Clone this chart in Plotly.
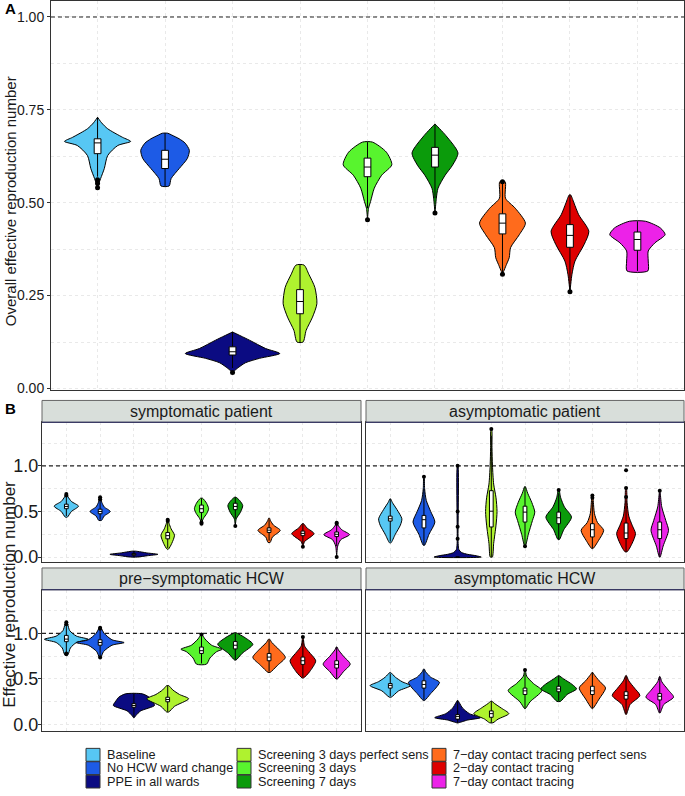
import plotly.graph_objects as go

# ---------------- categories / colours ----------------
categories = ["Baseline", "No HCW ward change", "PPE in all wards",
              "Screening 3 days perfect sens", "Screening 3 days", "Screening 7 days",
              "7\u2212day contact tracing perfect sens", "2\u2212day contact tracing",
              "7\u2212day contact tracing"]
colors = ["#57C7F4", "#1D5BE6", "#0B0B82", "#AFF22F", "#58F42E", "#0B9B0B",
          "#FF6B1C", "#DE0000", "#EC22E8"]
facet_titles = ["symptomatic patient", "asymptomatic patient",
                "pre\u2212symptomatic HCW", "asymptomatic HCW"]
reference_value = 1.0

# ---------------- Panel A: violin profiles (value, half-width in category units) -------------
A_profiles = [
    [(0.539, 0.0), (0.552, 0.02), (0.565, 0.045), (0.592, 0.10), (0.627, 0.15), (0.654, 0.30),
     (0.665, 0.49), (0.676, 0.37), (0.699, 0.15), (0.715, 0.06), (0.730, 0.0)],
    [(0.545, 0.06), (0.565, 0.09), (0.592, 0.21), (0.619, 0.33), (0.641, 0.36), (0.660, 0.30),
     (0.672, 0.21), (0.682, 0.10), (0.687, 0.04)],
    [(0.043, 0.0), (0.054, 0.07), (0.069, 0.19), (0.081, 0.40), (0.094, 0.70), (0.1075, 0.49),
     (0.130, 0.25), (0.152, 0.0)],
    [(0.125, 0.045), (0.156, 0.09), (0.192, 0.185), (0.228, 0.25), (0.272, 0.22), (0.3075, 0.13),
     (0.332, 0.06)],
    [(0.454, 0.0), (0.485, 0.015), (0.503, 0.045), (0.539, 0.10), (0.574, 0.21), (0.602, 0.36),
     (0.636, 0.28), (0.663, 0.075)],
    [(0.472, 0.0), (0.512, 0.02), (0.539, 0.045), (0.574, 0.15), (0.601, 0.26), (0.634, 0.34),
     (0.681, 0.16), (0.712, 0.0)],
    [(0.3075, 0.0), (0.334, 0.06), (0.352, 0.10), (0.379, 0.12), (0.414, 0.25), (0.445, 0.34),
     (0.485, 0.19), (0.512, 0.045), (0.5565, 0.04)],
    [(0.2604, 0.0), (0.3075, 0.03), (0.343, 0.075), (0.3875, 0.21), (0.423, 0.28), (0.4675, 0.13),
     (0.499, 0.06), (0.521, 0.01)],
    [(0.3164, 0.155), (0.343, 0.16), (0.37, 0.16), (0.392, 0.26), (0.414, 0.41), (0.432, 0.34),
     (0.45, 0.12)],
]
A_q1 = [0.632, 0.592, 0.090, 0.201, 0.570, 0.596, 0.416, 0.380, 0.372]
A_med = [0.661, 0.617, 0.0987, 0.234, 0.596, 0.628, 0.445, 0.412, 0.401]
A_q3 = [0.672, 0.641, 0.112, 0.266, 0.620, 0.649, 0.470, 0.441, 0.421]
A_lo = [0.570, 0.545, 0.055, 0.125, 0.485, 0.512, 0.3075, 0.2604, 0.3164]
A_hi = [0.730, 0.687, 0.152, 0.332, 0.663, 0.712, 0.5565, 0.521, 0.45]
A_out = [[0.562, 0.552, 0.540], [], [0.043], [], [0.454], [0.472], [0.3075, 0.5565], [0.2604], []]

# ---------------- Panel B: symptomatic patient ----------------
SP_profiles = [
    [(0.438, 0.03), (0.50, 0.15), (0.558, 0.36), (0.61, 0.15), (0.66, 0.05), (0.692, 0.01)],
    [(0.402, 0.04), (0.45, 0.12), (0.50, 0.30), (0.55, 0.12), (0.60, 0.05), (0.656, 0.01)],
    [(0.0, 0.10), (0.015, 0.40), (0.03, 0.71), (0.045, 0.40), (0.065, 0.05)],
    [(0.087, 0.02), (0.15, 0.12), (0.24, 0.20), (0.31, 0.10), (0.37, 0.04), (0.41, 0.01)],
    [(0.366, 0.0), (0.42, 0.05), (0.48, 0.16), (0.53, 0.21), (0.59, 0.15), (0.645, 0.03)],
    [(0.34, 0.0), (0.42, 0.03), (0.49, 0.15), (0.565, 0.22), (0.62, 0.13), (0.656, 0.02)],
    [(0.16, 0.03), (0.22, 0.10), (0.293, 0.33), (0.35, 0.13), (0.40, 0.04), (0.428, 0.01)],
    [(0.112, 0.0), (0.17, 0.05), (0.257, 0.33), (0.32, 0.12), (0.366, 0.02)],
    [(0.0, 0.0), (0.12, 0.03), (0.19, 0.12), (0.246, 0.38), (0.30, 0.15), (0.35, 0.04), (0.377, 0.01)],
]
SP_q1 = [0.53, 0.475, 0.02, 0.20, 0.49, 0.52, 0.27, 0.235, 0.225]
SP_med = [0.555, 0.50, 0.03, 0.235, 0.53, 0.555, 0.295, 0.26, 0.25]
SP_q3 = [0.58, 0.525, 0.04, 0.27, 0.57, 0.59, 0.32, 0.285, 0.275]
SP_lo = [0.45, 0.41, 0.0, 0.10, 0.40, 0.42, 0.18, 0.14, 0.12]
SP_hi = [0.66, 0.62, 0.065, 0.38, 0.645, 0.656, 0.41, 0.366, 0.36]
SP_out = [[0.675, 0.692], [0.635, 0.656], [], [0.395, 0.41], [0.366, 0.38], [0.34], [], [0.112],
          [0.0, 0.365, 0.377]]

# ---------------- Panel B: asymptomatic patient ----------------
AP_profiles = [
    [(0.156, 0.02), (0.25, 0.15), (0.35, 0.30), (0.42, 0.345), (0.52, 0.20), (0.60, 0.06), (0.638, 0.01)],
    [(0.13, 0.02), (0.25, 0.15), (0.384, 0.325), (0.50, 0.20), (0.62, 0.07), (0.75, 0.02), (0.88, 0.005)],
    [(0.0, 0.70), (0.015, 0.55), (0.03, 0.30), (0.05, 0.12), (0.08, 0.04), (0.15, 0.015), (1.0, 0.008)],
    [(0.0, 0.03), (0.15, 0.07), (0.35, 0.14), (0.50, 0.17), (0.65, 0.14), (0.80, 0.07), (1.0, 0.035),
     (1.2, 0.02), (1.405, 0.01)],
    [(0.12, 0.01), (0.25, 0.10), (0.40, 0.22), (0.493, 0.29), (0.60, 0.20), (0.70, 0.08), (0.772, 0.01)],
    [(0.192, 0.02), (0.30, 0.15), (0.438, 0.38), (0.55, 0.17), (0.65, 0.06), (0.736, 0.01)],
    [(0.094, 0.02), (0.18, 0.18), (0.293, 0.335), (0.38, 0.15), (0.48, 0.06), (0.60, 0.03), (0.674, 0.01)],
    [(0.058, 0.03), (0.15, 0.18), (0.257, 0.28), (0.35, 0.18), (0.45, 0.08), (0.60, 0.03), (0.75, 0.01)],
    [(0.0, 0.01), (0.12, 0.10), (0.293, 0.26), (0.40, 0.18), (0.55, 0.06), (0.70, 0.015), (0.728, 0.005)],
]
AP_q1 = [0.395, 0.32, 0.0, 0.33, 0.384, 0.366, 0.221, 0.203, 0.203]
AP_med = [0.42, 0.41, 0.0, 0.503, 0.493, 0.431, 0.30, 0.264, 0.30]
AP_q3 = [0.449, 0.457, 0.0, 0.728, 0.558, 0.493, 0.366, 0.373, 0.384]
AP_lo = [0.17, 0.13, 0.0, 0.0, 0.13, 0.192, 0.094, 0.058, 0.0]
AP_hi = [0.638, 0.75, 0.0, 1.33, 0.772, 0.70, 0.62, 0.62, 0.70]
AP_out = [[], [0.88], [0.2, 0.333, 0.5, 1.0], [1.405], [0.12], [0.736], [0.65, 0.674],
          [0.659, 0.757, 0.953], [0.728]]

# ---------------- Panel B: pre-symptomatic HCW ----------------
PH_profiles = [
    [(0.77, 0.05), (0.84, 0.12), (0.90, 0.30), (0.935, 0.65), (0.97, 0.30), (1.03, 0.10), (1.10, 0.04),
     (1.123, 0.01)],
    [(0.736, 0.02), (0.80, 0.10), (0.87, 0.35), (0.899, 0.71), (0.93, 0.35), (1.00, 0.12), (1.062, 0.02)],
    [(0.076, 0.01), (0.10, 0.06), (0.15, 0.20), (0.21, 0.61), (0.25, 0.55), (0.30, 0.45), (0.337, 0.25)],
    [(0.138, 0.03), (0.20, 0.20), (0.283, 0.62), (0.33, 0.35), (0.38, 0.15), (0.427, 0.03)],
    [(0.663, 0.15), (0.73, 0.25), (0.80, 0.45), (0.826, 0.61), (0.87, 0.30), (0.94, 0.10), (0.989, 0.01)],
    [(0.707, 0.02), (0.78, 0.20), (0.88, 0.52), (0.95, 0.30), (1.007, 0.02)],
    [(0.572, 0.03), (0.65, 0.25), (0.736, 0.48), (0.82, 0.30), (0.90, 0.08), (0.935, 0.02)],
    [(0.511, 0.02), (0.58, 0.20), (0.699, 0.38), (0.78, 0.22), (0.86, 0.05), (0.96, 0.005)],
    [(0.50, 0.02), (0.58, 0.20), (0.663, 0.40), (0.75, 0.20), (0.82, 0.05), (0.851, 0.01)],
]
PH_q1 = [0.909, 0.87, 0.19, 0.25, 0.78, 0.83, 0.70, 0.66, 0.62]
PH_med = [0.937, 0.90, 0.21, 0.275, 0.81, 0.87, 0.74, 0.70, 0.66]
PH_q3 = [0.978, 0.93, 0.23, 0.30, 0.85, 0.91, 0.78, 0.74, 0.70]
PH_lo = [0.79, 0.75, 0.08, 0.14, 0.67, 0.71, 0.58, 0.52, 0.50]
PH_hi = [1.08, 1.04, 0.337, 0.427, 0.97, 1.0, 0.93, 0.93, 0.851]
PH_out = [[0.77, 0.78, 1.10, 1.123], [0.736, 1.05, 1.062], [], [], [0.989], [], [], [0.96], []]

# ---------------- Panel B: asymptomatic HCW ----------------
AH_profiles = [
    [(0.301, 0.03), (0.37, 0.25), (0.427, 0.60), (0.47, 0.35), (0.52, 0.15), (0.572, 0.01)],
    [(0.264, 0.02), (0.34, 0.20), (0.40, 0.35), (0.464, 0.46), (0.52, 0.20), (0.58, 0.05), (0.609, 0.01)],
    [(0.018, 0.01), (0.05, 0.30), (0.076, 0.68), (0.12, 0.35), (0.18, 0.15), (0.24, 0.05), (0.264, 0.01)],
    [(0.02, 0.05), (0.06, 0.20), (0.12, 0.52), (0.18, 0.30), (0.23, 0.10), (0.257, 0.01)],
    [(0.174, 0.01), (0.25, 0.15), (0.373, 0.50), (0.45, 0.25), (0.53, 0.05), (0.598, 0.005)],
    [(0.254, 0.05), (0.33, 0.25), (0.391, 0.53), (0.44, 0.40), (0.50, 0.15), (0.536, 0.01)],
    [(0.174, 0.01), (0.28, 0.20), (0.402, 0.39), (0.48, 0.20), (0.55, 0.05), (0.572, 0.01)],
    [(0.112, 0.01), (0.22, 0.12), (0.319, 0.41), (0.40, 0.25), (0.48, 0.08), (0.536, 0.01)],
    [(0.127, 0.01), (0.22, 0.12), (0.301, 0.41), (0.38, 0.25), (0.47, 0.06), (0.525, 0.01)],
]
AH_q1 = [0.40, 0.40, 0.06, 0.08, 0.33, 0.36, 0.33, 0.28, 0.27]
AH_med = [0.43, 0.44, 0.09, 0.12, 0.37, 0.39, 0.37, 0.32, 0.31]
AH_q3 = [0.45, 0.48, 0.11, 0.15, 0.40, 0.42, 0.42, 0.36, 0.34]
AH_lo = [0.31, 0.27, 0.02, 0.02, 0.18, 0.26, 0.18, 0.12, 0.13]
AH_hi = [0.56, 0.60, 0.26, 0.257, 0.56, 0.536, 0.572, 0.536, 0.525]
AH_out = [[], [], [], [], [0.598], [], [], [], []]

# ---------------- layout geometry (pixels of the 685x796 page) ----------------
W, H = 685, 796
FONT = "Liberation Sans, Arial, Helvetica, sans-serif"


def px(x):
    return x / W


def py(y):
    return 1 - y / H


panels = [
    dict(ax="", prof=A_profiles, q1=A_q1, med=A_med, q3=A_q3, lo=A_lo, hi=A_hi, out=A_out,
         xd=(51, 684), yd=(1, 393), yr=(-0.003, 1.043), xr=(-0.69, 8.69),
         ticks=[0, 0.25, 0.5, 0.75, 1.0], ticktext=["0.00", "0.25", "0.50", "0.75", "1.00"],
         minor=[0.125, 0.375, 0.625, 0.875], labels=True, tfs=14, msize=5, bw=0.1, so=0),
    dict(ax="2", prof=SP_profiles, q1=SP_q1, med=SP_med, q3=SP_q3, lo=SP_lo, hi=SP_hi, out=SP_out,
         xd=(42, 361), yd=(426, 567), yr=(-0.054, 1.478), xr=(-0.72, 8.72),
         ticks=[0, 0.5, 1.0], ticktext=["0.0", "0.5", "1.0"], minor=[0.25, 0.75, 1.25],
         labels=True, tfs=18, msize=4, bw=0.11, so=-4),
    dict(ax="3", prof=AP_profiles, q1=AP_q1, med=AP_med, q3=AP_q3, lo=AP_lo, hi=AP_hi, out=AP_out,
         xd=(366, 684), yd=(426, 567), yr=(-0.054, 1.478), xr=(-0.72, 8.72),
         ticks=[0, 0.5, 1.0], ticktext=["0.0", "0.5", "1.0"], minor=[0.25, 0.75, 1.25],
         labels=False, tfs=18, msize=4, bw=0.11, so=0),
    dict(ax="4", prof=PH_profiles, q1=PH_q1, med=PH_med, q3=PH_q3, lo=PH_lo, hi=PH_hi, out=PH_out,
         xd=(42, 361), yd=(595, 737), yr=(-0.065, 1.478), xr=(-0.72, 8.72),
         ticks=[0, 0.5, 1.0], ticktext=["0.0", "0.5", "1.0"], minor=[0.25, 0.75, 1.25],
         labels=True, tfs=18, msize=4, bw=0.11, so=-4),
    dict(ax="5", prof=AH_profiles, q1=AH_q1, med=AH_med, q3=AH_q3, lo=AH_lo, hi=AH_hi, out=AH_out,
         xd=(366, 684), yd=(595, 737), yr=(-0.065, 1.478), xr=(-0.72, 8.72),
         ticks=[0, 0.5, 1.0], ticktext=["0.0", "0.5", "1.0"], minor=[0.25, 0.75, 1.25],
         labels=False, tfs=18, msize=4, bw=0.11, so=0),
]

fig = go.Figure()
GRID = "#E9E9E9"
LINE = "#333333"
shapes = []
annotations = []

for p in panels:
    xa, ya = "x" + p["ax"], "y" + p["ax"]
    common = dict(xaxis=xa, yaxis=ya, showlegend=False, hoverinfo="skip")
    # dashed reference line at R = 1 (under the violins, above the grid)
    fig.add_trace(go.Scatter(x=list(p["xr"]), y=[reference_value, reference_value], mode="lines",
                             line=dict(color="#222222", width=1.1, dash="4px,3px"), **common))
    # violins
    for i, prof in enumerate(p["prof"]):
        ys = [v for v, w in prof]
        ws = [w for v, w in prof]
        xs = [i + w for w in ws] + [i - w for w in ws[::-1]] + [i + ws[0]]
        yy = ys + ys[::-1] + [ys[0]]
        fig.add_trace(go.Scatter(x=xs, y=yy, mode="lines", fill="toself", fillcolor=colors[i],
                                 line=dict(color="black", width=1, shape="spline", smoothing=0.7),
                                 **common))
    # boxplot summaries: whiskers, boxes, medians (built from the summary statistics)
    hw = p["bw"] / 2
    wx, wy, bx, by, mx, my = [], [], [], [], [], []
    for i in range(9):
        wx += [i, i, None]
        wy += [p["lo"][i], p["hi"][i], None]
        bx += [i - hw, i + hw, i + hw, i - hw, i - hw, None]
        by += [p["q1"][i], p["q1"][i], p["q3"][i], p["q3"][i], p["q1"][i], None]
        mx += [i - hw, i + hw, None]
        my += [p["med"][i], p["med"][i], None]
    fig.add_trace(go.Scatter(x=wx, y=wy, mode="lines", line=dict(color="black", width=1), **common))
    fig.add_trace(go.Scatter(x=bx, y=by, mode="lines", fill="toself", fillcolor="white",
                             line=dict(color="black", width=1), **common))
    fig.add_trace(go.Scatter(x=mx, y=my, mode="lines", line=dict(color="black", width=1), **common))
    # outliers
    ox, oy = [], []
    for i, vals in enumerate(p["out"]):
        for v in vals:
            ox.append(i)
            oy.append(v)
    fig.add_trace(go.Scatter(x=ox, y=oy, mode="markers",
                             marker=dict(color="black", size=p["msize"]), **common))
    # axes
    key = "xaxis" + p["ax"]
    ykey = "yaxis" + p["ax"]
    fig.layout[key] = dict(domain=[px(p["xd"][0]), px(p["xd"][1])], range=list(p["xr"]),
                           anchor=ya, tickvals=list(range(9)), showticklabels=False, ticks="",
                           showgrid=True, gridcolor=GRID, griddash="dot", gridwidth=1,
                           zeroline=False, showline=True, mirror=True, linecolor=LINE, linewidth=1)
    fig.layout[ykey] = dict(domain=[py(p["yd"][1]), py(p["yd"][0])], range=list(p["yr"]),
                            anchor=xa, tickvals=p["ticks"], ticktext=p["ticktext"],
                            showticklabels=p["labels"], ticks="outside" if p["labels"] else "",
                            ticklen=3, tickcolor=LINE, ticklabelstandoff=p["so"],
                            tickfont=dict(size=p["tfs"], color="#1a1a1a", family=FONT),
                            showgrid=True, gridcolor=GRID, griddash="dot", gridwidth=1,
                            minor=dict(tickvals=p["minor"], showgrid=True, gridcolor=GRID,
                                       griddash="dot", gridwidth=1, ticks=""),
                            zeroline=False, showline=True, mirror=True, linecolor=LINE, linewidth=1)

# strips
strip_boxes = [(42, 361, 404, 426), (366, 684, 404, 426), (42, 361, 573, 595), (366, 684, 573, 595)]
for (x0, x1, y0, y1), title in zip(strip_boxes, facet_titles):
    shapes.append(dict(type="rect", xref="paper", yref="paper", x0=px(x0), x1=px(x1),
                       y0=py(y1), y1=py(y0), fillcolor="#D8DEDA", line=dict(color="#666666", width=1)))
    shapes.append(dict(type="line", xref="paper", yref="paper", x0=px(x0), x1=px(x1),
                       y0=py(y1), y1=py(y1), line=dict(color="#22225A", width=1.2)))
    annotations.append(dict(x=px((x0 + x1) / 2), y=py((y0 + y1) / 2), xref="paper", yref="paper",
                            text=title, showarrow=False, xanchor="center", yanchor="middle",
                            font=dict(size=16, color="#1a1a1a", family=FONT)))

# panel letters and axis titles
annotations.append(dict(x=px(3), y=py(9), xref="paper", yref="paper", text="<b>A</b>",
                        showarrow=False, xanchor="left", yanchor="middle",
                        font=dict(size=15, color="black", family=FONT)))
annotations.append(dict(x=px(3), y=py(412), xref="paper", yref="paper", text="<b>B</b>",
                        showarrow=False, xanchor="left", yanchor="middle",
                        font=dict(size=15, color="black", family=FONT)))
annotations.append(dict(x=px(10), y=py(203), xref="paper", yref="paper",
                        text="Overall effective reproduction number", textangle=-90,
                        showarrow=False, xanchor="center", yanchor="middle",
                        font=dict(size=15, color="#1a1a1a", family=FONT)))
annotations.append(dict(x=px(10), y=py(600), xref="paper", yref="paper",
                        text="Effective reproduction number", textangle=-90,
                        showarrow=False, xanchor="center", yanchor="middle",
                        font=dict(size=17, color="#1a1a1a", family=FONT)))

# legend (three columns, column-major like ggplot)
col_key_x = [86, 237, 432]
row_y = [755, 768.5, 782]
key_w, key_h = 14, 13
for k, (name, col) in enumerate(zip(categories, colors)):
    c, r = divmod(k, 3)
    kx, ky = col_key_x[c], row_y[r]
    shapes.append(dict(type="rect", xref="paper", yref="paper", x0=px(kx), x1=px(kx + key_w),
                       y0=py(ky + key_h), y1=py(ky), fillcolor=col,
                       line=dict(color="#333333", width=1)))
    annotations.append(dict(x=px(kx + key_w + 5), y=py(ky + key_h / 2), xref="paper", yref="paper",
                            text=name, showarrow=False, xanchor="left", yanchor="middle",
                            font=dict(size=12.7, color="#1a1a1a", family=FONT)))

fig.update_layout(width=W, height=H, margin=dict(l=0, r=0, t=0, b=0),
                  plot_bgcolor="white", paper_bgcolor="white", showlegend=False,
                  font=dict(family=FONT, color="#1a1a1a"),
                  shapes=shapes, annotations=annotations)

fig.write_html("out.html", config={"displayModeBar": False},
               post_script="document.body.style.margin='0px';document.body.style.overflow='hidden';")
